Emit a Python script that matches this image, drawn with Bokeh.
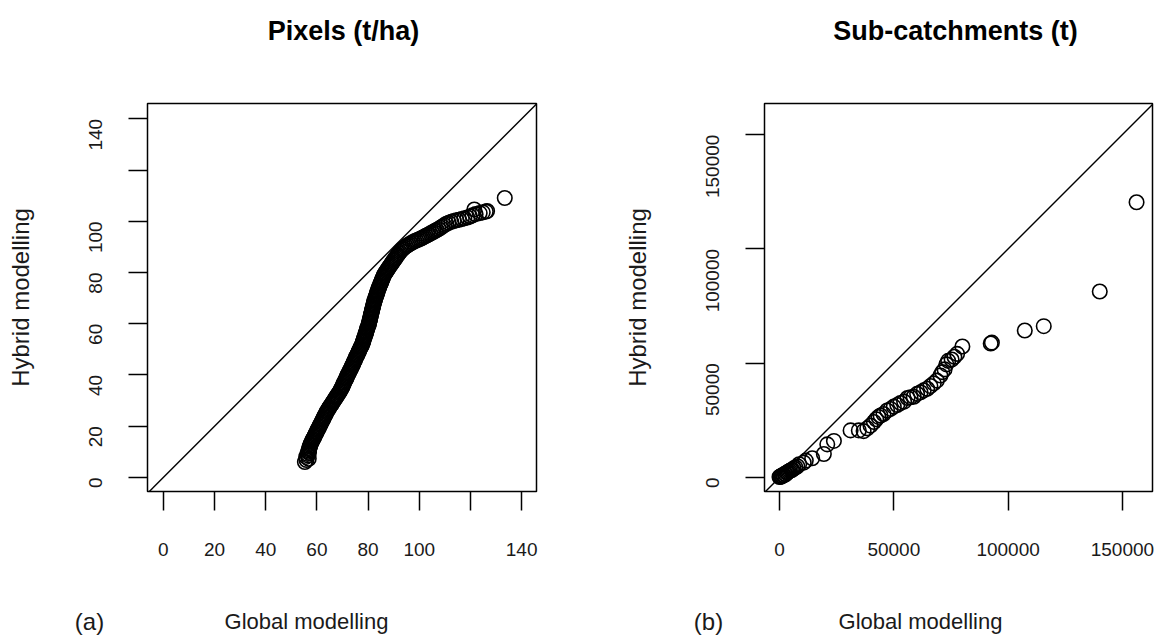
import math
from bokeh.plotting import figure
from bokeh.layouts import row, column
from bokeh.models import Range1d, Label, Slope, BasicTickFormatter
from bokeh.embed import file_html
from bokeh.resources import INLINE

FONT = "Liberation Sans"

# ---------------- Panel (a): pixels (t/ha) ----------------
pix_hybrid = [
    6.0, 6.8, 7.3, 8.0, 8.6, 9.2, 9.6, 10.0, 10.5, 11.0, 11.5, 12.0, 12.5, 13.0, 13.5,
    14.0, 14.5, 15.0, 15.5, 16.0, 16.5, 17.0, 17.5, 18.0, 18.5, 19.0, 19.5, 20.0, 20.5,
    21.0, 21.5, 22.0, 22.5, 23.0, 23.5, 24.0, 24.5, 25.0, 25.5, 26.0, 26.5, 27.0, 27.5,
    28.0, 28.5, 29.0, 29.5, 30.0, 30.5, 31.0, 31.5, 32.0, 32.5, 33.0, 33.5, 34.0, 34.5,
    35.0, 35.5, 36.0, 36.5, 37.0, 37.5, 38.0, 38.5, 39.0, 39.5, 40.0, 40.5, 41.0, 41.5,
    42.0, 42.5, 43.0, 43.5, 44.0, 44.5, 45.0, 45.5, 46.0, 46.5, 47.0, 47.5, 48.0, 48.5,
    49.0, 49.5, 50.0, 50.5, 51.0, 51.5, 52.0, 52.5, 53.0, 53.5, 54.0, 54.5, 55.0, 55.5,
    56.0, 56.5, 57.0, 57.5, 58.0, 58.5, 59.0, 59.5, 60.0, 60.5, 61.0, 61.5, 62.0, 62.5,
    63.0, 63.5, 64.0, 64.5, 65.0, 65.5, 66.0, 66.5, 67.0, 67.5, 68.0, 68.5, 69.0, 69.5,
    70.0, 70.5, 71.0, 71.5, 72.0, 72.5, 73.0, 73.5, 74.0, 74.5, 75.0, 75.5, 76.0, 76.5,
    77.0, 77.5, 78.0, 78.5, 79.0, 79.5, 80.0, 80.5, 81.0, 81.5, 82.0, 82.5, 83.0, 83.5,
    84.0, 84.5, 85.0, 85.5, 86.0, 86.5, 87.0, 87.5, 88.0, 88.5, 89.0, 89.4, 89.8, 90.2,
    90.6, 91.0, 91.4, 91.8, 92.2, 92.5, 92.8, 93.1, 93.4, 93.7, 94.0, 94.3, 94.6, 94.9,
    95.3, 95.6, 95.9, 96.3, 96.6, 97.0, 97.5, 98.0, 98.5, 99.0, 99.4, 99.8, 100.1, 100.4,
    100.6, 100.9, 101.2, 101.5, 101.9, 102.3, 102.8, 103.2, 103.5, 103.8, 104.0, 104.6,
    109.1,
]
pix_global = [
    55.3, 55.9, 56.8, 55.8, 56.4, 56.3, 56.9, 56.6, 56.8, 56.9, 57.1, 57.2, 57.4, 57.5, 57.8,
    58.0, 58.3, 58.5, 58.8, 59.0, 59.3, 59.5, 59.8, 60.0, 60.3, 60.5, 60.8, 61.0, 61.3,
    61.5, 61.8, 62.0, 62.3, 62.5, 62.8, 63.0, 63.3, 63.5, 63.8, 64.0, 64.4, 64.7, 65.0,
    65.3, 65.7, 66.0, 66.3, 66.6, 67.0, 67.3, 67.6, 67.9, 68.3, 68.6, 68.9, 69.2, 69.5,
    69.7, 70.0, 70.2, 70.4, 70.6, 70.9, 71.1, 71.4, 71.6, 71.8, 72.0, 72.3, 72.5, 72.8,
    73.0, 73.3, 73.5, 73.8, 74.0, 74.2, 74.4, 74.7, 74.9, 75.1, 75.3, 75.6, 75.8, 76.1,
    76.3, 76.5, 76.7, 77.0, 77.2, 77.5, 77.7, 77.9, 78.0, 78.2, 78.3, 78.5, 78.7, 78.9,
    79.0, 79.2, 79.3, 79.5, 79.6, 79.8, 80.0, 80.2, 80.3, 80.4, 80.5, 80.7, 80.8, 80.9,
    81.0, 81.1, 81.2, 81.4, 81.5, 81.6, 81.7, 81.9, 82.0, 82.1, 82.2, 82.4, 82.5, 82.7,
    82.8, 83.0, 83.2, 83.4, 83.5, 83.7, 83.8, 84.0, 84.2, 84.4, 84.6, 84.8, 85.0, 85.2,
    85.4, 85.6, 85.8, 86.0, 86.2, 86.5, 86.8, 87.2, 87.5, 87.8, 88.1, 88.5, 88.8, 89.2,
    89.5, 89.9, 90.2, 90.6, 90.9, 91.3, 91.6, 92.0, 92.3, 92.8, 93.2, 93.7, 94.2, 94.8,
    95.4, 96.0, 96.7, 97.4, 98.1, 98.8, 99.5, 100.2, 100.8, 101.4, 102.0, 102.6, 103.2, 103.8,
    104.4, 105.0, 105.6, 106.2, 106.8, 107.5, 108.3, 109.0, 109.8, 110.6, 111.5, 112.5, 113.5, 114.5,
    115.5, 116.6, 117.6, 118.8, 119.8, 120.8, 122.0, 123.6, 124.8, 126.0, 126.5, 121.5,
    133.4,
]
pix_ticks = [0, 20, 40, 60, 80, 100, 120, 140]
pix_hidden_labels = {120: ""}

# ---------------- Panel (b): sub-catchments (t) ----------------
sub_global = [
    0, 300, 600, 900, 1200, 1500, 1900, 2300, 2700, 3100, 3500, 4000, 4500, 5000, 5600,
    6200, 7000, 7800, 8600, 10600, 11500, 14300, 19400, 20900, 23800, 31100, 34700, 36800,
    38400, 39800, 41300, 42300, 43300, 44200, 45500, 47100, 48600, 50000, 51500, 52900,
    54500, 56000, 57300, 58700, 60200, 61700, 63100, 64600, 66000, 67500, 68800, 70400,
    71200, 72200, 73000, 73800, 75300, 76500, 77700, 80000, 92400, 92900, 107300, 115600,
    140100, 156200,
]
sub_hybrid = [
    200, 400, 300, 700, 600, 1100, 1000, 1600, 1400, 2000, 2300, 2600, 2900, 3200, 3400,
    4000, 4400, 4900, 5800, 6500, 7400, 8400, 10300, 14500, 16000, 20600, 20600, 20300,
    21500, 22700, 24300, 25500, 26500, 27100, 27800, 29300, 30000, 31000, 31700, 32600,
    33200, 34800, 35100, 35300, 36600, 37300, 38100, 38800, 40000, 41200, 42400, 44600,
    46100, 47300, 49500, 51000, 51600, 52800, 54100, 57300, 58600, 59000, 64300, 66200,
    81400, 120400,
]
sub_ticks = [0, 50000, 100000, 150000]

TITLES = ["Pixels (t/ha)", "Sub-catchments (t)"]
XLABEL = "Global modelling"
YLABEL = "Hybrid modelling"
PANEL_TAGS = ["(a)", "(b)"]

W = 582
TOP_H = 60      # strip holding the titles
MAIN_H = 540    # plot area strip
BOT_H = 39      # strip holding x label and panel tag


def strip(height):
    s = figure(width=W, height=height, x_range=Range1d(0, W), y_range=Range1d(height, 0),
               output_backend="svg", toolbar_location=None, min_border=0,
               x_axis_location=None, y_axis_location=None)
    s.grid.visible = False
    s.outline_line_color = None
    s.background_fill_color = "white"
    s.border_fill_color = "white"
    return s


def make_panel(xs, ys, xr, yr, ticks, overrides, border_left, border_right):
    p = figure(width=W, height=MAIN_H, x_range=Range1d(*xr), y_range=Range1d(*yr),
               output_backend="svg", toolbar_location=None,
               min_border_left=border_left, min_border_right=border_right,
               min_border_top=103 - TOP_H, min_border_bottom=MAIN_H + TOP_H - 491)
    p.grid.visible = False
    p.outline_line_color = "black"
    p.outline_line_width = 1.5
    p.background_fill_color = "white"
    p.border_fill_color = "white"

    for ax in (p.xaxis[0], p.yaxis[0]):
        ax.ticker = ticks
        ax.major_label_overrides = overrides
        ax.axis_line_color = None
        ax.major_tick_out = 19
        ax.major_tick_in = 0
        ax.minor_tick_out = 0
        ax.minor_tick_in = 0
        ax.major_tick_line_color = "black"
        ax.major_tick_line_width = 1.5
        ax.major_label_text_font = FONT
        ax.major_label_text_font_size = "19px"
        ax.major_label_text_color = "#1a1a1a"
        ax.formatter = BasicTickFormatter(use_scientific=False)

    p.xaxis.major_label_standoff = 32
    p.yaxis.major_label_standoff = 33
    p.yaxis.major_label_orientation = math.pi / 2
    p.yaxis.axis_label = YLABEL
    p.yaxis.axis_label_text_font = FONT
    p.yaxis.axis_label_text_font_size = "24px"
    p.yaxis.axis_label_text_font_style = "normal"
    p.yaxis.axis_label_text_color = "#1a1a1a"
    p.yaxis.axis_label_standoff = 46

    p.add_layout(Slope(gradient=1, y_intercept=0, line_color="black", line_width=1.4))
    p.scatter(xs, ys, marker="circle", size=14.5, fill_color=None,
              line_color="black", line_width=1.6)
    return p


def title_strip(title, cx):
    s = strip(TOP_H)
    s.add_layout(Label(x=cx, y=30, text=title, text_align="center", text_baseline="middle",
                       text_font=FONT, text_font_size="27px", text_font_style="bold",
                       text_color="black"))
    return s


def bottom_strip(tag, tag_cx, label_cx):
    s = strip(BOT_H)
    s.add_layout(Label(x=label_cx, y=21, text=XLABEL, text_align="center",
                       text_baseline="middle", text_font=FONT,
                       text_font_size="22px", text_color="#1a1a1a"))
    s.add_layout(Label(x=tag_cx, y=21, text=tag, text_align="center",
                       text_baseline="middle", text_font=FONT,
                       text_font_size="24px", text_color="#1a1a1a"))
    return s


pa = make_panel(pix_global, pix_hybrid, (-6.2, 145.8), (-5.5, 146.0), pix_ticks,
                pix_hidden_labels, 147, 46)
pb = make_panel(sub_global, sub_hybrid, (-6560, 163170), (-6125, 163620), sub_ticks,
                {}, 182, 12)

layout = column(
    row(title_strip(TITLES[0], 343), title_strip(TITLES[1], 955 - W)),
    row(pa, pb),
    row(bottom_strip(PANEL_TAGS[0], 89, 306), bottom_strip(PANEL_TAGS[1], 708 - W, 920 - W)),
)
open("out.html", "w").write(file_html(layout, INLINE))
